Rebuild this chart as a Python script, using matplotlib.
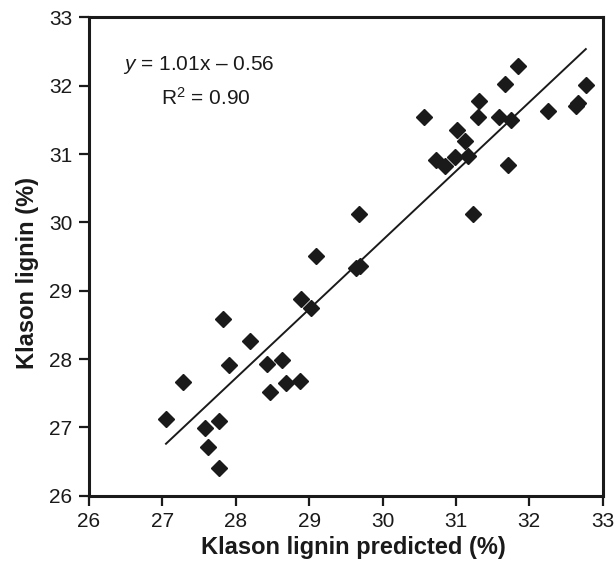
import matplotlib
matplotlib.use("Agg")
import matplotlib.pyplot as plt
import numpy as np

plt.rcParams['font.family'] = ['Liberation Sans', 'DejaVu Sans']
plt.rcParams['mathtext.fontset'] = 'custom'
plt.rcParams['mathtext.rm'] = 'Liberation Sans'
plt.rcParams['mathtext.it'] = 'Liberation Sans:italic'

predicted = [27.05, 27.28, 27.58, 27.62, 27.77, 27.77, 27.82, 27.91, 28.20, 28.43,
             28.47, 28.63, 28.69, 28.88, 28.89, 29.02, 29.09, 29.64, 29.69, 29.68,
             30.57, 30.73, 30.85, 30.99, 31.02, 31.12, 31.16, 31.23, 31.30, 31.31,
             31.59, 31.67, 31.71, 31.75, 31.85, 32.25, 32.64, 32.66, 32.77]
measured = [27.12, 27.66, 26.99, 26.71, 27.09, 26.40, 28.58, 27.91, 28.26, 27.93,
            27.52, 27.99, 27.65, 27.68, 28.88, 28.75, 29.51, 29.33, 29.36, 30.12,
            31.54, 30.91, 30.83, 30.96, 31.35, 31.19, 30.97, 30.12, 31.54, 31.78,
            31.54, 32.03, 30.84, 31.50, 32.29, 31.63, 31.70, 31.75, 32.01]
slope, intercept = 1.01, -0.56
fit_x = [27.05, 32.77]
ticks = [26, 27, 28, 29, 30, 31, 32, 33]

fig = plt.figure(figsize=(6.15, 5.66), dpi=100)
ax = fig.add_axes([0.1446, 0.1242, 0.980 - 0.1446, 0.9691 - 0.1242])

fx = np.array(fit_x)
ax.plot(fx, slope * fx + intercept, color='#1a1a1a', lw=1.4, zorder=2)
ax.plot(predicted, measured, linestyle='none', marker='D', ms=8.5,
        color='#1a1a1a', mec='#1a1a1a', zorder=3)

ax.set_xlim(26, 33)
ax.set_ylim(26, 33)
ax.set_xticks(ticks)
ax.set_yticks(ticks)
ax.tick_params(direction='out', length=7, width=1.6, labelsize=15, colors='#1a1a1a', pad=5)
for s in ax.spines.values():
    s.set_linewidth(2.2)
    s.set_color('#1a1a1a')

ax.set_xlabel('Klason lignin predicted (%)', fontsize=17, fontweight='bold', color='#1a1a1a')
ax.set_ylabel('Klason lignin (%)', fontsize=17, fontweight='bold', color='#1a1a1a')
ax.xaxis.set_label_coords(0.515, -0.085)
ax.yaxis.set_label_coords(-0.097, 0.465)

ax.text(0.066, 0.90, r'$y$ = 1.01x – 0.56', transform=ax.transAxes, fontsize=15,
        color='#1a1a1a', ha='left', va='center')
ax.text(0.141, 0.831, 'R$^2$ = 0.90', transform=ax.transAxes, fontsize=15,
        color='#1a1a1a', ha='left', va='center')

fig.savefig('out.png', dpi=100)
